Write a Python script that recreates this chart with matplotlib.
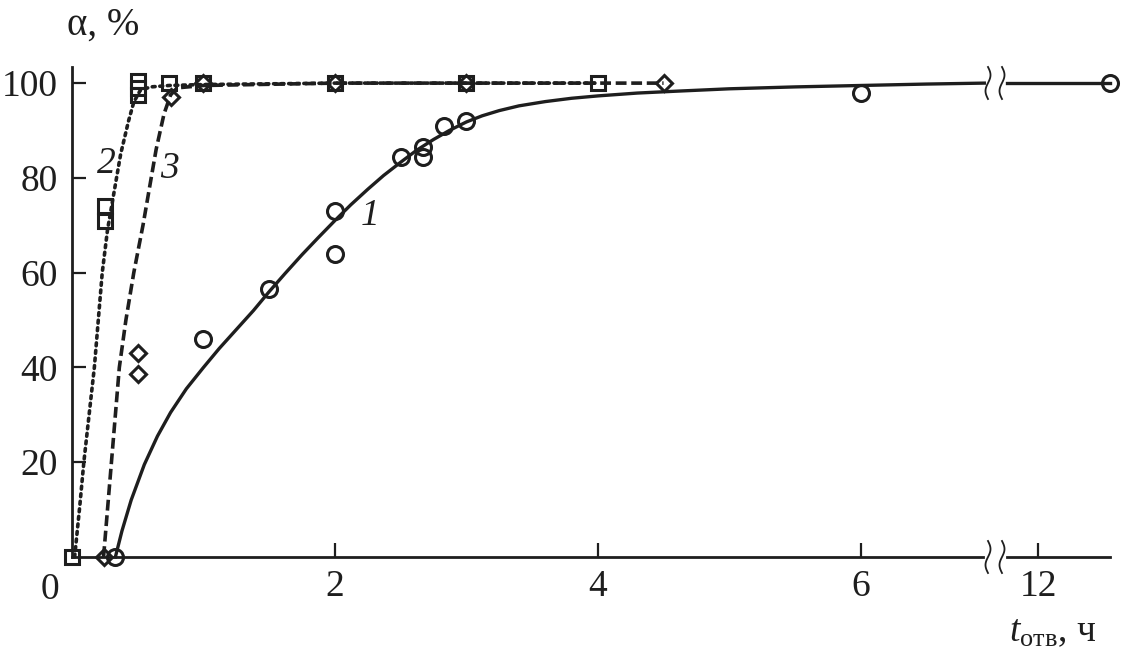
import numpy as np
import matplotlib.pyplot as plt

plt.rcParams['font.family'] = ['Liberation Serif', 'DejaVu Serif']
plt.rcParams['mathtext.fontset'] = 'custom'
plt.rcParams['mathtext.rm'] = 'Liberation Serif'
plt.rcParams['mathtext.it'] = 'Liberation Serif:italic'

# series 1 (circles, solid fit)
t1 = [0.33, 1.0, 1.5, 2.0, 2.0, 2.5, 2.67, 2.67, 2.83, 3.0, 6.0]
a1 = [0, 46, 56.5, 73, 64, 84.5, 86.5, 84.5, 91, 92, 98]
t1_far = [12.55]
a1_far = [100]
fit1_t = [0.33, 0.38, 0.45, 0.55, 0.65, 0.75, 0.87, 1.0, 1.12, 1.25, 1.38, 1.5,
          1.62, 1.75, 1.87, 2.0, 2.12, 2.25, 2.37, 2.5, 2.62, 2.75, 2.87, 3.0,
          3.12, 3.25, 3.4, 3.6, 3.8, 4.0, 4.3, 4.6, 5.0, 5.5, 6.0, 6.5, 6.94]
fit1_a = [0, 5.5, 12, 19.5, 25.5, 30.5, 35.5, 40, 44, 48, 52, 56,
          59.8, 63.8, 67.3, 71, 74.3, 77.6, 80.5, 83.3, 85.8, 88.1, 90, 91.8,
          93.1, 94.2, 95.2, 96.1, 96.8, 97.3, 97.9, 98.3, 98.8, 99.2, 99.5, 99.8, 100]
fit1_far_t = [11.76, 12.55]
fit1_far_a = [100, 100]

# series 2 (squares, dotted)
t2 = [0.0, 0.25, 0.25, 0.5, 0.5, 0.5, 0.74, 1.0, 2.0, 3.0, 4.0]
a2 = [0, 74, 71, 100.5, 99, 97.5, 100, 100, 100, 100, 100]
fit2_t = [0.02, 0.06, 0.09, 0.13, 0.17, 0.2, 0.23, 0.27, 0.32, 0.37, 0.43, 0.47,
          0.52, 0.6, 0.74, 1.0, 2.0, 3.0, 4.0]
fit2_a = [0, 11, 20, 30, 40, 50, 60, 69, 77, 85, 92, 96,
          98.5, 99.2, 99.5, 99.7, 100, 100, 100]

# series 3 (diamonds, dashed)
t3 = [0.24, 0.5, 0.5, 0.75, 1.0, 2.0, 3.0, 4.5]
a3 = [0, 43, 38.6, 97, 100, 100, 100, 100]
fit3_t = [0.24, 0.27, 0.30, 0.33, 0.36, 0.41, 0.47, 0.54, 0.59, 0.64, 0.70,
          0.75, 0.8, 1.0, 2.0, 3.0, 4.0, 4.5]
fit3_a = [0, 10, 20, 30, 40, 50, 60, 70, 78, 86, 93.5,
          97.5, 99, 99.5, 100, 100, 100, 100]

W, H = 1123, 651
fig = plt.figure(figsize=(W / 100, H / 100), dpi=100)
bottom = 1 - 557 / H
height = (557 - 67) / H
ax = fig.add_axes([72 / W, bottom, (983 - 72) / W, height])
ax2 = fig.add_axes([1007 / W, bottom, (1110 - 1007) / W, height])

col = '#1e1e1e'
mk = dict(mfc='none', mec=col, mew=2.2, ls='none', clip_on=False, zorder=5)

ax.plot(fit1_t, fit1_a, color=col, lw=2.4, clip_on=False, solid_joinstyle='round')
ax.plot(fit2_t, fit2_a, color=col, lw=2.6, ls=(0, (0.8, 1.3)),
        dash_capstyle='round', clip_on=False)
ax.plot(fit3_t, fit3_a, color=col, lw=2.6, ls=(0, (3, 1.3)), clip_on=False)
ax.plot(t1, a1, marker='o', ms=11.5, **mk)
ax.plot(t2, a2, marker='s', ms=10.5, **mk)
ax.plot(t3, a3, marker='D', ms=8.5, **mk)

ax2.plot(fit1_far_t, fit1_far_a, color=col, lw=2.4, clip_on=False)
ax2.plot(t1_far, a1_far, marker='o', ms=11.5, **mk)

for a in (ax, ax2):
    a.set_ylim(0, 103.4)
    a.spines['top'].set_visible(False)
    a.spines['right'].set_visible(False)
    for s in a.spines.values():
        s.set_linewidth(2.0)
        s.set_color(col)
    a.tick_params(direction='in', length=10, width=1.6, color=col,
                  labelsize=27, labelcolor=col)
    a.tick_params(axis='x', pad=9)
    a.tick_params(axis='y', pad=10)

ax.set_xlim(0, 6.93)
ax.set_xticks([2, 4, 6])
ax.set_yticks([20, 40, 60, 80, 100])
ax2.set_xlim(11.76, 12.55)
ax2.set_xticks([12])
ax2.spines['left'].set_visible(False)
ax2.set_yticks([])

# origin label
ax.annotate('0', xy=(0, 0), xytext=(-16, -11), textcoords='offset points',
            ha='center', va='top', fontsize=27, color=col)

# curve numbers
ax.text(0.26, 83, '2', fontsize=27, style='italic', color=col, ha='center', va='center')
ax.text(0.74, 82, '3', fontsize=27, style='italic', color=col, ha='center', va='center')
ax.text(2.27, 72, '1', fontsize=27, style='italic', color=col, ha='center', va='center')

# axis titles
fig.text(103 / W, 1 - 25 / H, 'α, %', fontsize=28, color=col, ha='center', va='center')
fig.text(1053 / W, 1 - 632 / H, r'$t_{\mathrm{отв}}$, ч', fontsize=27, color=col,
         ha='center', va='center')

# break marks
s = np.linspace(-1, 1, 40)
for y0 in (0, 100):
    for dx in (5, 19):
        xs = 983 + dx + 2.5 * np.sin(np.pi * s)
        ys = (557 - y0 * 4.74) - 16 * s
        fig.add_artist(plt.Line2D(xs / W, 1 - ys / H, color=col, lw=1.3,
                                  transform=fig.transFigure))

fig.savefig('out.png', dpi=100)
